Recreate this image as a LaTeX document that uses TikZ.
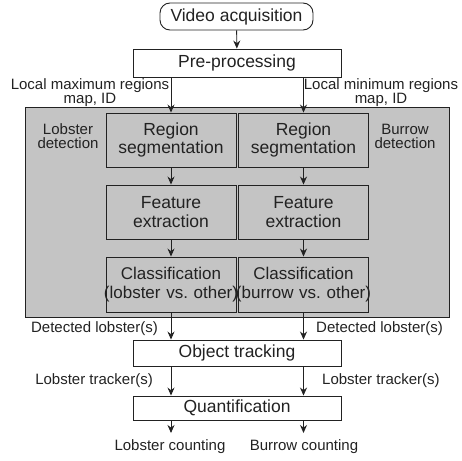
\documentclass[tikz,border=0pt]{standalone}
\usepackage{fontspec}
\setmainfont{Liberation Sans}
\usetikzlibrary{arrows.meta,positioning}
\definecolor{FlowInk}{HTML}{222222}
\definecolor{FlowPanel}{HTML}{C4C4C4}
\newcommand{\fitline}[1]{\makebox[130pt]{#1}}

\begin{document}
\begin{tikzpicture}[x=1pt,y=-1pt,
      stage/.style={draw=FlowInk,fill=white,line width=0.9pt,inner sep=0pt,
        minimum width=208pt,minimum height=26pt,text=FlowInk,
        font=\fontsize{17.5}{18}\selectfont},
      module/.style={draw=FlowInk,fill=FlowPanel,line width=0.9pt,inner sep=0pt,
        text width=130pt,minimum height=54pt,align=center,text=FlowInk,
        font=\fontsize{17.5}{18.5}\selectfont},
      note/.style={inner sep=0pt,align=center,text=FlowInk,
        font=\fontsize{15}{14}\selectfont},
      arrow/.style={-{Stealth[length=8pt,width=7pt]},line width=0.9pt,color=FlowInk}
    ]
      \useasboundingbox (0,0) rectangle (462,460);
      % grey detection panel
      \node[draw=FlowInk,fill=FlowPanel,line width=0.9pt,inner sep=0pt,
        minimum width=424pt,minimum height=210pt] (panel) at (237,212) {};
      \node[stage,minimum width=153pt,minimum height=27pt,rounded corners=10pt] (video) at (236.5,16.5) {Video acquisition};
      \node[stage,minimum height=28pt] (pre) at (237,63) {Pre-processing};
      % two detection columns
      \node[module] (seg1) at (171,140) {Region\\segmentation};
      \node[module] (feat1) at (171,212) {Feature\\extraction};
      \node[module,minimum height=55pt,font=\fontsize{17}{19}\selectfont] (class1) at (171,284.5) {Classification\\\fitline{(lobster vs.\ other)}};
      \node[module] (seg2) at (303.5,140) {Region\\segmentation};
      \node[module] (feat2) at (303.5,212) {Feature\\extraction};
      \node[module,minimum height=55pt,font=\fontsize{17}{19}\selectfont] (class2) at (303.5,284.5) {Classification\\\fitline{(burrow vs.\ other)}};
      \node[note] (lobdet) at (68,136) {Lobster\\detection};
      \node[note] (burdet) at (405,136) {Burrow\\detection};
      \node[stage] (track) at (237,353) {Object tracking};
      \node[stage,minimum height=24pt] (quant) at (237,408) {Quantification};
      % labels
      \node[note] (maxmap) at (90,93) {Local maximum regions\\map, ID};
      \node[note] (minmap) at (381,93) {Local minimum regions\\map, ID};
      \node[note,anchor=east] (det1) at (158,329) {Detected lobster(s)};
      \node[note,anchor=west] (det2) at (316,329) {Detected lobster(s)};
      \node[note,anchor=east] (trk1) at (153,381) {Lobster tracker(s)};
      \node[note,anchor=west] (trk2) at (322,381) {Lobster tracker(s)};
      \node[note] (lcount) at (170,447) {Lobster counting};
      \node[note] (bcount) at (304,447) {Burrow counting};
      \coordinate (lend) at (171,433);
      \coordinate (bend) at (303.5,433);
      % connectors
      \draw[arrow] (video) -- (pre);
      \draw[arrow] (seg1.north |- pre.south) -- (seg1);
      \draw[arrow] (seg2.north |- pre.south) -- (seg2);
      \draw[arrow] (seg1) -- (feat1);
      \draw[arrow] (feat1) -- (class1);
      \draw[arrow] (seg2) -- (feat2);
      \draw[arrow] (feat2) -- (class2);
      \draw[arrow] (class1.south) -- (class1.south |- track.north);
      \draw[arrow] (class2.south) -- (class2.south |- track.north);
      \draw[arrow] (track.south -| class1) -- (quant.north -| class1);
      \draw[arrow] (track.south -| class2) -- (quant.north -| class2);
      \draw[arrow] (quant.south -| lend) -- (lend);
      \draw[arrow] (quant.south -| bend) -- (bend);
    \end{tikzpicture}
\end{document}
